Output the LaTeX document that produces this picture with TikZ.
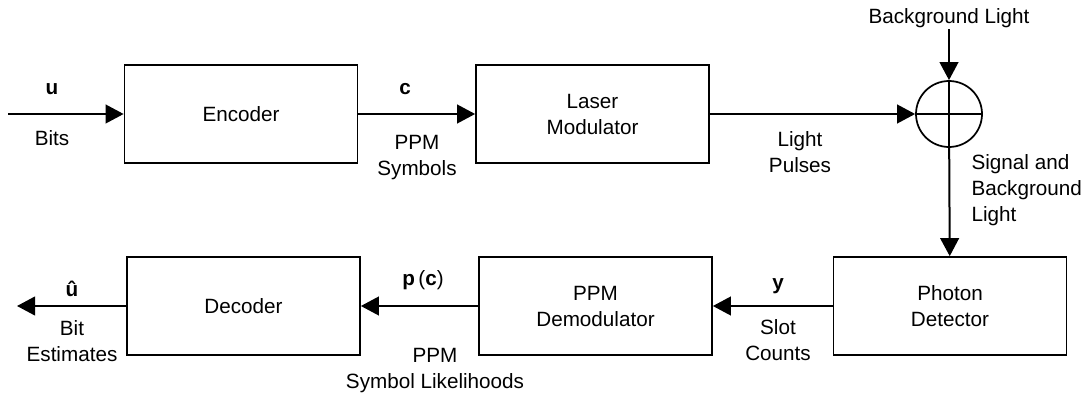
\documentclass[tikz,border=0pt]{standalone}
\usepackage{fontspec}
\setmainfont{Liberation Sans}
\usetikzlibrary{arrows.meta}

\tikzset{
  block/.style={draw, line width=1.3pt, minimum width=174.75pt, minimum height=73.5pt, align=center, inner sep=0pt},
  adder/.style={draw, circle, line width=1.3pt, minimum size=49.5pt, inner sep=0pt},
  lbl/.style={align=center, inner sep=1pt},
  flow/.style={line width=1.5pt, -{Triangle[length=13.5pt,width=14pt]}}
}

\begin{document}
\begin{tikzpicture}[x=0.75pt,y=-0.75pt, font=\fontsize{15.5}{19.5}\selectfont]
\useasboundingbox (0,0) rectangle (1091,395);

% top row: transmitter
\node[block] (enc) at (241,114) {Encoder};
\node[block] (laser) at (592.5,114) {Laser\\Modulator};
\node[adder] (sum) at (949,114) {};
\draw[line width=1.3pt] (sum.north) -- (sum.south);
\draw[line width=1.3pt] (sum.west) -- (sum.east);

% bottom row: receiver
\node[block] (det) at (950,306) {Photon\\Detector};
\node[block] (demod) at (595.5,306) {PPM\\Demodulator};
\node[block] (dec) at (243.5,306) {Decoder};

% free ends
\coordinate (in) at (8,114);
\coordinate (out) at (17,306);
\node[lbl] (bg) at (949,18) {Background Light};

% signal path
\draw[flow] (in) -- (enc);
\draw[flow] (enc) -- (laser);
\draw[flow] (laser) -- (sum);
\draw[flow] (bg) -- (sum);
\draw[flow] (sum) -- (det);
\draw[flow] (det) -- (demod);
\draw[flow] (demod) -- (dec);
\draw[flow] (dec) -- (out);

% labels on the arrows
\node[lbl] (u) at (52,89) {\textbf{u}};
\node[lbl] (bits) at (52,138) {Bits};
\node[lbl] (c) at (405,89) {\textbf{c}};
\node[lbl] (ppmsym) at (417,158) {PPM\\Symbols};
\node[lbl] (pulses) at (800,152) {Light\\Pulses};
\node[lbl, align=left, anchor=west] (sigbg) at (970,190) {Signal and\\Background\\Light};
\node[lbl] (y) at (778,286) {\textbf{y}};
\node[lbl] (slot) at (778,340) {Slot\\Counts};
\node[lbl] (pc) at (423,280) {\textbf{p}\,(\textbf{c})};
\node[lbl] (lik) at (435,371) {PPM\\Symbol Likelihoods};
\node[lbl, anchor=base] (uhat) at (72,296) {\textbf{\^{u}}};
\node[lbl] (est) at (72,341) {Bit\\Estimates};
\end{tikzpicture}
\end{document}
